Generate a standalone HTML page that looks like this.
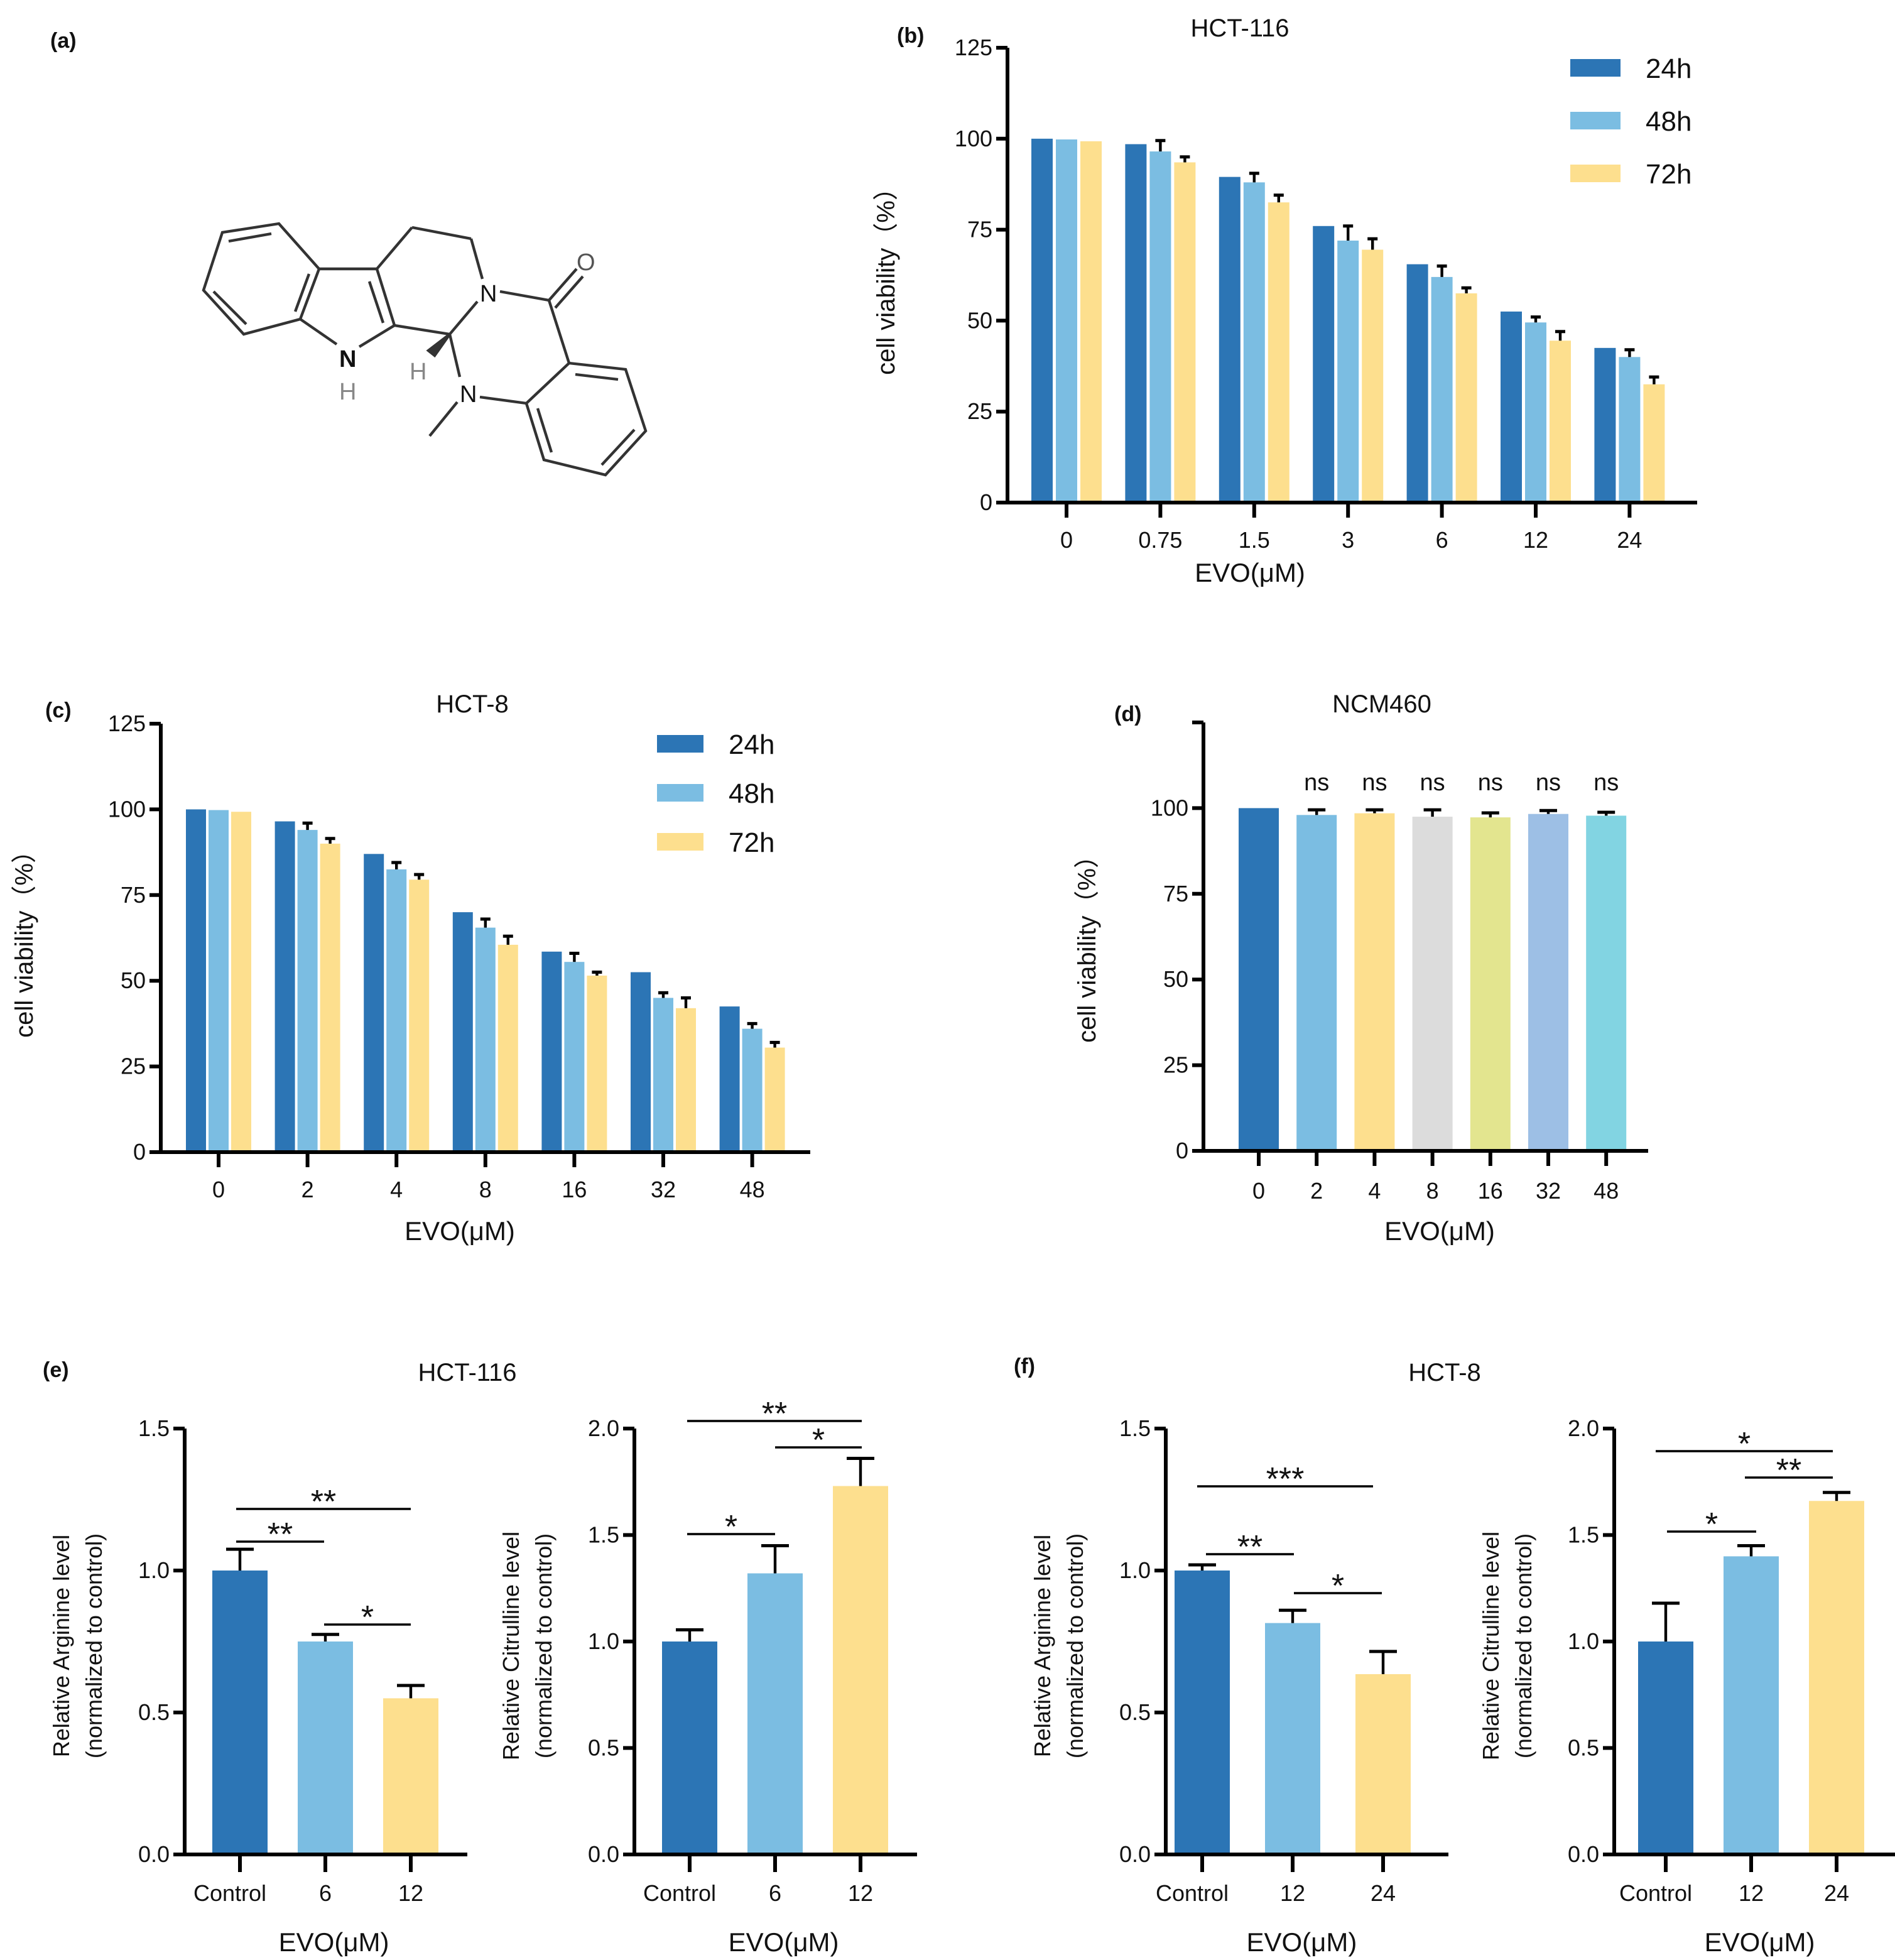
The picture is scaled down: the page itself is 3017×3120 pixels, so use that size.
<!DOCTYPE html>
<html><head><meta charset="utf-8">
<style>
html,body{margin:0;padding:0;background:#fff;}
svg{display:block;}
text{font-family:"Liberation Sans",Arial,sans-serif;fill:#111;}
</style></head>
<body>
<svg id="fig" width="3017" height="3120" viewBox="0 0 1508.5 1560" xmlns="http://www.w3.org/2000/svg">
<g id="mol" stroke="#333" stroke-width="2.2" fill="none">
  <polygon points="222,178 177,185 162,231 194,266 239,254 254,214"/>
  <line x1="216" y1="186" x2="182" y2="192"/><line x1="170" y1="232" x2="196" y2="258"/><line x1="246" y1="218" x2="235" y2="248"/>
  <line x1="254" y1="214" x2="300" y2="214"/>
  <line x1="300" y1="214" x2="314" y2="259"/><line x1="294" y1="224" x2="305" y2="257"/>
  <line x1="314" y1="259" x2="286" y2="276"/><line x1="268" y1="274" x2="239" y2="254"/>
  <line x1="300" y1="214" x2="328" y2="181"/><line x1="328" y1="181" x2="375" y2="190"/><line x1="375" y1="190" x2="384" y2="222"/>
  <line x1="314" y1="259" x2="358" y2="266"/><line x1="358" y1="266" x2="380" y2="240"/>
  <line x1="398" y1="232" x2="437" y2="239"/><line x1="437" y1="239" x2="459" y2="214"/><line x1="442" y1="245" x2="464" y2="220"/>
  <line x1="437" y1="239" x2="453" y2="289"/>
  <line x1="358" y1="266" x2="366" y2="300"/><line x1="382" y1="316" x2="419" y2="321"/><line x1="364" y1="320" x2="342" y2="347"/>
  <polygon points="453,289 498,294 514,343 482,378 433,366 419,321"/>
  <line x1="458" y1="298" x2="492" y2="302"/><line x1="505" y1="342" x2="479" y2="370"/><line x1="428" y1="325" x2="439" y2="360"/>
  <polygon points="358,266 346,283 341,279" fill="#333"/>
</g>
<g font-size="19">
  <text x="270" y="292" font-weight="bold">N</text><text x="270" y="318" style="fill:#888">H</text>
  <text x="326" y="302" style="fill:#888">H</text>
  <text x="382" y="240">N</text><text x="366" y="320">N</text>
  <text x="459" y="215" style="fill:#555">O</text>
</g>
<g font-size="17" font-weight="bold">
  <text x="40" y="38">(a)</text><text x="714" y="34">(b)</text><text x="36" y="571">(c)</text>
  <text x="887" y="574">(d)</text><text x="34" y="1096">(e)</text><text x="807" y="1093">(f)</text>
</g>
<g id="charts"></g>
</svg>
<script>
// ---------- data ----------
const bCats = ["0","0.75","1.5","3","6","12","24"];
const b24 = [100,98.5,89.5,76,65.5,52.5,42.5];
const b48 = [99.8,96.5,88,72,62,49.5,40];
const b72 = [99.3,93.5,82.5,69.5,57.5,44.5,32.5];
const b24err = [0,0,0,0,0,0,0];
const b48err = [0,3,2.5,4,3,1.5,2];
const b72err = [0,1.5,2,3,1.5,2.5,2];
const cCats = ["0","2","4","8","16","32","48"];
const c24 = [100,96.5,87,70,58.5,52.5,42.5];
const c48 = [99.8,94,82.5,65.5,55.5,45,36];
const c72 = [99.3,90,79.5,60.5,51.5,42,30.5];
const c24err = [0,0,0,0,0,0,0];
const c48err = [0,2,2,2.5,2.5,1.5,1.5];
const c72err = [0,1.5,1.5,2.5,1,3,1.5];
const vTicks = ["0","25","50","75","100","125"];
const dCats = ["0","2","4","8","16","32","48"];
const dVals = [100,98,98.5,97.5,97.3,98.3,97.8];
const dErr = [0,1.5,1,2,1.3,1,1];
const dSig = ["","ns","ns","ns","ns","ns","ns"];
const eCats = ["Control","6","12"];
const eArg = [1.0,0.75,0.55];
const eArgErr = [0.075,0.025,0.045];
const eCit = [1.0,1.32,1.73];
const eCitErr = [0.055,0.13,0.13];
const fCats = ["Control","12","24"];
const fArg = [1.0,0.815,0.635];
const fArgErr = [0.02,0.045,0.08];
const fCit = [1.0,1.40,1.66];
const fCitErr = [0.18,0.05,0.04];
const argTicks = ["0.0","0.5","1.0","1.5"];
const citTicks = ["0.0","0.5","1.0","1.5","2.0"];
const seriesNames = ["24h","48h","72h"];
// ---------- drawing ----------
const NS="http://www.w3.org/2000/svg";
const root=document.getElementById('charts');
const C1="#2c75b5",C2="#7bbde2",C3="#fddf8e";
const dColors=[C1,C2,C3,"#dcdcdc","#e3e58f","#9dbfe5","#82d4e2"];
function mk(tag,attrs,parent){const e=document.createElementNS(NS,tag);for(const k in attrs)e.setAttribute(k,attrs[k]);(parent||root).appendChild(e);return e;}
function txt(s,x,y,size,anchor,parent,extra){const t=mk('text',Object.assign({x:x,y:y,'font-size':size,'text-anchor':anchor||'middle'},extra||{}),parent);t.textContent=s;return t;}
function axes(g,x0,x1,y0,yTop,tickVals,tickLabels,yScale,fs){
  const ax=mk('line',{x1:x0,y1:y0,x2:x0,y2:yTop,stroke:'#000','stroke-width':3},g);
  
  
  const xl=mk('line',{x1:x0-1.5,y1:y0,x2:x1,y2:y0,stroke:'#000','stroke-width':3},g);
  
  
  tickVals.forEach((v,i)=>{const y=yScale(v);
    mk('line',{x1:x0-9,y1:y,x2:x0,y2:y,stroke:'#000','stroke-width':3},g);
    if(tickLabels[i]!==null){const t=txt(tickLabels[i],x0-12,y+6,fs,'end',g);
      
      }
  });
}
function errbar(g,x,yTop,yErr,w){
  mk('line',{x1:x,y1:yTop,x2:x,y2:yErr,stroke:'#000','stroke-width':2.2},g);
  mk('line',{x1:x-w,y1:yErr,x2:x+w,y2:yErr,stroke:'#000','stroke-width':2.5},g);
}
function grouped(cfg){
  const g=mk('g',{});
  
  
  const ys=v=>cfg.y0-(v/125)*(cfg.y0-cfg.yTop);
  axes(g,cfg.x0,cfg.x1,cfg.y0,cfg.yTop,[0,25,50,75,100,125],vTicks,ys,18);
  const series=[cfg.s24,cfg.s48,cfg.s72],errs=[cfg.e24,cfg.e48,cfg.e72],cols=[C1,C2,C3];
  cfg.cats.forEach((c,i)=>{const cx=cfg.first+i*cfg.step;
    series.forEach((s,j)=>{const bx=cx+(j-1)*cfg.bstep-cfg.bw/2;
      const r=mk('rect',{x:bx,y:ys(s[i]),width:cfg.bw,height:cfg.y0-ys(s[i])-1.5,fill:cols[j]},g);
      
      
      if(errs[j][i]>0)errbar(g,bx+cfg.bw/2,ys(s[i]),ys(s[i]+errs[j][i]),4);
    });
    mk('line',{x1:cx,y1:cfg.y0,x2:cx,y2:cfg.y0+12,stroke:'#000','stroke-width':3},g);
    const t=txt(c,cx,cfg.y0+36,18,'middle',g);
    
    
  });
  const tt=txt(cfg.title,cfg.titleX,cfg.titleY,20,'middle',g);
  
  
  const xt=txt('EVO(μM)',cfg.xlabX,cfg.xlabY,21,'middle',g);
  
  
  const yt=txt('cell viability（%）',0,0,20,'middle',g,{transform:`translate(${cfg.ylabX},${(cfg.y0+cfg.yTop)/2}) rotate(-90)`});
  
  
  seriesNames.forEach((n,j)=>{const ly=cfg.legY+j*cfg.legStep;
    const r=mk('rect',{x:cfg.legX,y:ly,width:cfg.legW,height:14,fill:cols[j]},g);
    
    
    const t=txt(n,cfg.legX+cfg.legW+20,ly+15,22,'start',g);
    
    
  });
}
grouped({name:'chart-b-hct116',x0:802,x1:1351,y0:400,yTop:38,first:849,step:74.7,bw:17,bstep:19.5,
  cats:bCats,s24:b24,s48:b48,s72:b72,e24:b24err,e48:b48err,e72:b72err,title:'HCT-116',titleX:987,titleY:29,
  xlabX:995,xlabY:463,ylabX:712,legX:1250,legY:47,legStep:42,legW:40});
grouped({name:'chart-c-hct8',x0:128,x1:645,y0:917,yTop:576,first:174,step:70.8,bw:16,bstep:18,
  cats:cCats,s24:c24,s48:c48,s72:c72,e24:c24err,e48:c48err,e72:c72err,title:'HCT-8',titleX:376,titleY:567,
  xlabX:366,xlabY:987,ylabX:26,legX:523,legY:585,legStep:39,legW:37});
// panel d
(function(){
  const g=mk('g',{});
  
  
  const y0=916,yTop=575,x0=958;
  const ys=v=>y0-(v/125)*(y0-yTop);
  axes(g,x0,1312,y0,yTop,[0,25,50,75,100,125],["0","25","50","75","100",null],ys,18);
  dCats.forEach((c,i)=>{const cx=1002+i*46.1;
    const r=mk('rect',{x:cx-16,y:ys(dVals[i]),width:32,height:y0-ys(dVals[i])-1.5,fill:dColors[i]},g);
    
    
    if(dErr[i]>0)errbar(g,cx,ys(dVals[i]),ys(dVals[i]+dErr[i]),7);
    if(dSig[i]){const s=txt(dSig[i],cx,629,19,'middle',g);
      
      }
    mk('line',{x1:cx,y1:y0,x2:cx,y2:y0+12,stroke:'#000','stroke-width':3},g);
    const t=txt(c,cx,y0+38,18,'middle',g);
    
    
  });
  const tt=txt('NCM460',1100,567,20,'middle',g);
  
  
  const xt=txt('EVO(μM)',1146,987,21,'middle',g);
  
  
  const yt=txt('cell viability（%）',0,0,20,'middle',g,{transform:`translate(872,${(y0+yTop)/2+5}) rotate(-90)`});
  
  
})();
function simple(cfg){
  const g=mk('g',{});
  
  
  const y0=1476,yTop=1137;
  const ys=v=>y0-(v/cfg.max)*(y0-yTop);
  axes(g,cfg.x0,cfg.x0+225,y0,yTop,cfg.ticks.map(parseFloat),cfg.ticks,ys,18);
  const cols=[C1,C2,C3];
  cfg.cats.forEach((c,i)=>{const cx=cfg.first+i*cfg.step;
    const r=mk('rect',{x:cx-22,y:ys(cfg.vals[i]),width:44,height:y0-ys(cfg.vals[i])-1.5,fill:cols[i]},g);
    
    
    errbar(g,cx,ys(cfg.vals[i]),ys(cfg.vals[i]+cfg.errs[i]),11);
    mk('line',{x1:cx,y1:y0,x2:cx,y2:y0+14,stroke:'#000','stroke-width':3},g);
    const t=txt(c,cx-(i===0?8:0),y0+37,18,'middle',g);
    
    
  });
  cfg.sig.forEach(s=>{
    const l=mk('line',{x1:s[0],y1:s[2],x2:s[1],y2:s[2],stroke:'#000','stroke-width':1.8},g);
    
    
    const t=txt(s[3],(s[0]+s[1])/2,s[2]+3,26,'middle',g);
    
    
  });
  const xt=txt('EVO(μM)',cfg.first+cfg.step*1.1,1553,21,'middle',g);
  
  
  const yt=txt('Relative '+cfg.label+' level',0,0,18,'middle',g,{transform:`translate(${cfg.x0-92},1310) rotate(-90)`});
  
  
  const yt2=txt('(normalized to control)',0,0,18,'middle',g,{transform:`translate(${cfg.x0-66},1310) rotate(-90)`});
  
  
}
simple({name:'chart-e-arginine',x0:147,first:191,step:68,cats:eCats,vals:eArg,errs:eArgErr,max:1.5,ticks:argTicks,label:'Arginine',
  sig:[[188,327,1201,'**'],[188,258,1227,'**'],[258,327,1293,'*']]});
simple({name:'chart-e-citrulline',x0:505,first:549,step:68,cats:eCats,vals:eCit,errs:eCitErr,max:2,ticks:citTicks,label:'Citrulline',
  sig:[[547,686,1131,'**'],[617,686,1152,'*'],[547,617,1221,'*']]});
simple({name:'chart-f-arginine',x0:928,first:957,step:72,cats:fCats,vals:fArg,errs:fArgErr,max:1.5,ticks:argTicks,label:'Arginine',
  sig:[[953,1093,1183,'***'],[960,1030,1237,'**'],[1030,1100,1268,'*']]});
simple({name:'chart-f-citrulline',x0:1285,first:1326,step:68,cats:fCats,vals:fCit,errs:fCitErr,max:2,ticks:citTicks,label:'Citrulline',
  sig:[[1318,1459,1155,'*'],[1389,1459,1176,'**'],[1327,1398,1219,'*']]});
const t1=txt('HCT-116',372,1099,20,'middle');


const t2=txt('HCT-8',1150,1099,20,'middle');


</script>
</body></html>
